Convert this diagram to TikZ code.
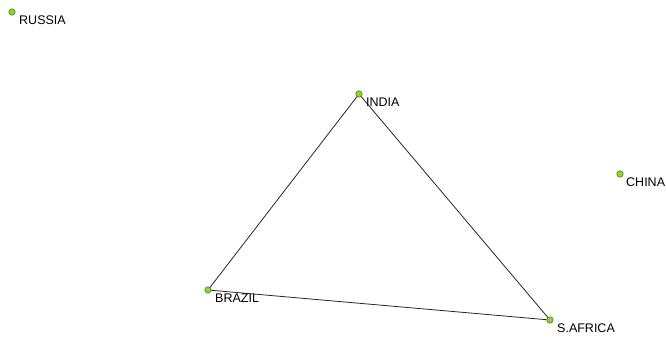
\documentclass[tikz,border=0pt]{standalone}
\usepackage{fontspec}
\setmainfont{Liberation Sans}
\definecolor{lime}{RGB}{128,224,16}
\begin{document}
\begin{tikzpicture}[x=1pt,y=-1pt,
  dot/.style={circle,draw=black!65,fill=lime,line width=0.5pt,inner sep=0pt,minimum size=6.5pt},
  lbl/.style={anchor=base west,inner sep=0pt,font=\fontsize{12.5}{14}\selectfont,text=black},
  edge/.style={draw=black!85,line width=0.8pt}]
\useasboundingbox (0,0) rectangle (666,339);
\coordinate (russiaC) at (12,12);
\coordinate (indiaC) at (359,94);
\coordinate (chinaC) at (620,174);
\coordinate (brazilC) at (208,290);
\coordinate (safricaC) at (550,320);
\draw[edge] (indiaC) -- (brazilC);
\draw[edge] (indiaC) -- (safricaC);
\draw[edge] (brazilC) -- (safricaC);
\node[dot] (russia) at (russiaC) {};
\node[dot] (india) at (indiaC) {};
\node[dot] (china) at (chinaC) {};
\node[dot] (brazil) at (brazilC) {};
\node[dot] (safrica) at (safricaC) {};
\node[lbl] (russiaL) at (19,24.5) {RUSSIA};
\node[lbl] (indiaL) at (366,106.5) {INDIA};
\node[lbl] (chinaL) at (626,186.5) {CHINA};
\node[lbl] (brazilL) at (215,302.5) {BRAZIL};
\node[lbl] (safricaL) at (557,332.5) {S.AFRICA};
\end{tikzpicture}
\end{document}
